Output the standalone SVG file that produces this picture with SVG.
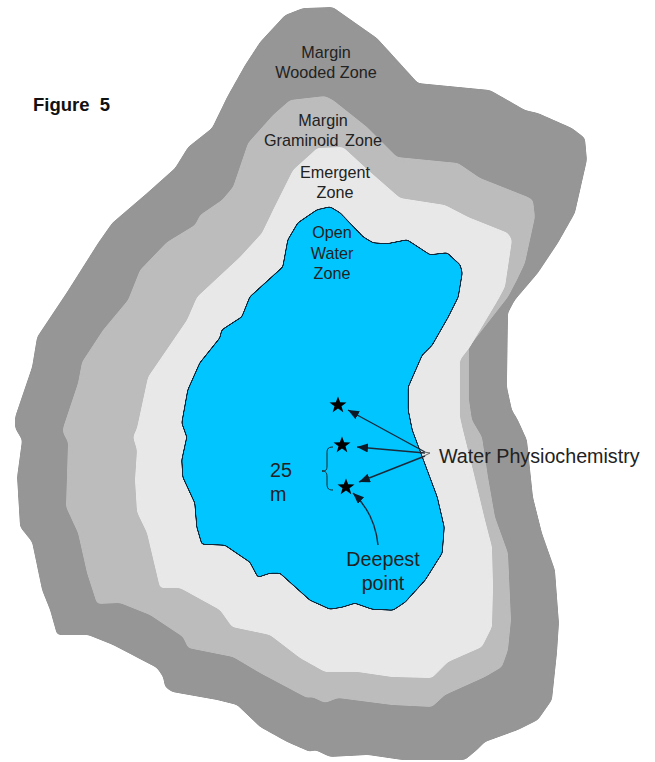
<svg xmlns="http://www.w3.org/2000/svg" width="655" height="762" viewBox="0 0 655 762">
<style>
text{font-family:"Liberation Sans",Arial,sans-serif;fill:#222}
.s{font-size:16.2px;text-anchor:middle}
.b{font-size:19.7px}
.l{fill:none;stroke:#1c2a3a;stroke-width:1.4}
.z{stroke:none;filter:url(#soft)}
</style>
<defs>
<filter id="soft" filterUnits="userSpaceOnUse" x="0" y="0" width="655" height="762" color-interpolation-filters="sRGB">
<feGaussianBlur in="SourceGraphic" stdDeviation="2"/>
<feColorMatrix type="matrix" values="1 0 0 0 0 0 1 0 0 0 0 0 1 0 0 0 0 0 8 -3.5"/>
</filter>
<filter id="water" filterUnits="userSpaceOnUse" x="0" y="0" width="655" height="762" color-interpolation-filters="sRGB">
<feGaussianBlur in="SourceGraphic" stdDeviation="1.5" result="b"/>
<feColorMatrix in="b" type="matrix" values="0 0 0 0 0.05 0 0 0 0 0.16 0 0 0 0 0.23 0 0 0 10 -2.5" result="o"/>
<feColorMatrix in="b" type="matrix" values="1 0 0 0 0 0 1 0 0 0 0 0 1 0 0 0 0 0 10 -5.5" result="f"/>
<feMerge><feMergeNode in="o"/><feMergeNode in="f"/></feMerge>
</filter>
<marker id="a" markerUnits="userSpaceOnUse" markerWidth="12" markerHeight="10" refX="11" refY="4.5" orient="auto"><path d="M0 0L11 4.5L0 9Z" fill="#0c1a28"/></marker>
<polygon id="star" points="0,-8.5 2.2,-2.7 8.5,-2.6 3.5,1.2 5.3,7.2 0,3.6 -5.3,7.2 -3.5,1.2 -8.5,-2.6 -2.2,-2.7" fill="#000"/>
</defs>
<rect width="655" height="762" fill="#fff"/>
<g id="wooded-zone"><path class="z" fill="#969696" d="M333 7L303 8L285 15L260 42L245 65L227 97L212 128L188 147L175 168L147 193L112 223L98 243L67 292L37 337L32 367L15 417L15 428L22 440L17 477L20 527L32 542L42 590L50 610L57 635L88 635L113 645L157 668L163 677L165 687L172 692L217 700L237 705L260 727L287 742L310 752L315 750L330 757L368 755L402 760L465 760L477 750L485 742L518 730L538 720L552 700L557 653L559 623L555 570L542 533L533 497L527 440L518 420L512 410L507 387L508 313L515 300L538 273L558 243L575 213L587 160L585 138L572 128L538 113L525 110L490 90L418 83L388 50L377 38L340 12Z"/></g>
<g id="graminoid-zone"><path class="z" fill="#bcbcbc" d="M325 96L290 100L273 115L248 143L233 187L222 200L200 215L195 225L167 242L140 270L128 300L103 330L82 362L78 383L63 428L63 433L68 442L66 507L78 533L87 573L97 604L120 603L150 615L183 637L188 648L233 657L260 673L307 698L312 697L325 703L338 698L392 705L432 707L445 695L485 677L502 667L508 650L511 620L508 553L495 517L488 477L482 437L472 420L469 400L469 347L508 297L517 280L525 263L535 217L533 200L528 197L480 178L458 163L397 157L367 127L333 100Z"/></g>
<g id="emergent-zone"><path class="z" fill="#e8e8e8" d="M317 148L343 147L368 170L400 198L445 205L468 217L508 233L512 240L505 287L498 300L470 347L460 360L460 417L463 430L473 470L485 520L492 547L493 587L492 627L482 647L448 662L432 678L392 677L358 672L325 672L300 658L270 635L232 627L220 610L180 588L160 588L147 533L137 512L135 480L137 450L133 437L137 428L148 377L187 320L197 297L240 257L262 233L273 210L293 170L313 152Z"/></g>
<g id="open-water-zone"><path fill="#00c5ff" filter="url(#water)" d="M330 207L317 210L298 223L288 240L283 267L250 297L242 317L222 330L220 338L200 363L188 390L182 423L187 437L182 460L183 477L195 503L197 527L202 544L225 545L250 562L258 577L270 573L280 573L310 600L330 609L342 607L355 603L372 609L393 610L405 602L425 580L442 553L444 527L437 497L412 430L408 410L408 387L422 355L432 345L448 317L458 297L462 273L460 265L447 253L430 255L407 240L387 244L373 243L363 237L340 213Z"/></g>
<g id="connectors">
<path class="l" marker-end="url(#a)" d="M425 452L348 410"/>
<path class="l" marker-end="url(#a)" d="M425 453L357 447"/>
<path class="l" marker-end="url(#a)" d="M425 456L359 482"/>
<path class="l" marker-end="url(#a)" d="M378 545C376 525 368 507 353 493"/>
<path d="M424 452L430 453L424 456" fill="none" stroke="#666" stroke-width="1"/>
<path d="M333 447C327 447 327 450 327 454L327 466C327 470 326 471 322 471C326 471 327 473 327 477L327 484C327 489 329 490 333 490" fill="none" stroke="#222" stroke-width="1"/>
</g>
<g id="stars">
<use href="#star" x="338" y="405"/>
<use href="#star" x="342" y="445"/>
<use href="#star" x="346" y="487"/>
</g>
<g id="labels">
<text x="33" y="111" font-weight="bold" font-size="18.5" word-spacing="5" style="fill:#111">Figure 5</text>
<text class="s" x="326" y="58">Margin</text>
<text class="s" x="326" y="78">Wooded Zone</text>
<text class="s" x="323" y="126">Margin</text>
<text class="s" x="323" y="146" word-spacing="2">Graminoid Zone</text>
<text class="s" x="335" y="178">Emergent</text>
<text class="s" x="335" y="198">Zone</text>
<text class="s" x="332" y="238">Open</text>
<text class="s" x="332" y="259">Water</text>
<text class="s" x="332" y="279">Zone</text>
<text class="b" x="439" y="463">Water Physiochemistry</text>
<text class="b" x="383" y="566" text-anchor="middle">Deepest</text>
<text class="b" x="383" y="590" text-anchor="middle">point</text>
<text class="b" x="270" y="477">25</text>
<text class="b" x="270" y="501">m</text>
</g>
</svg>
